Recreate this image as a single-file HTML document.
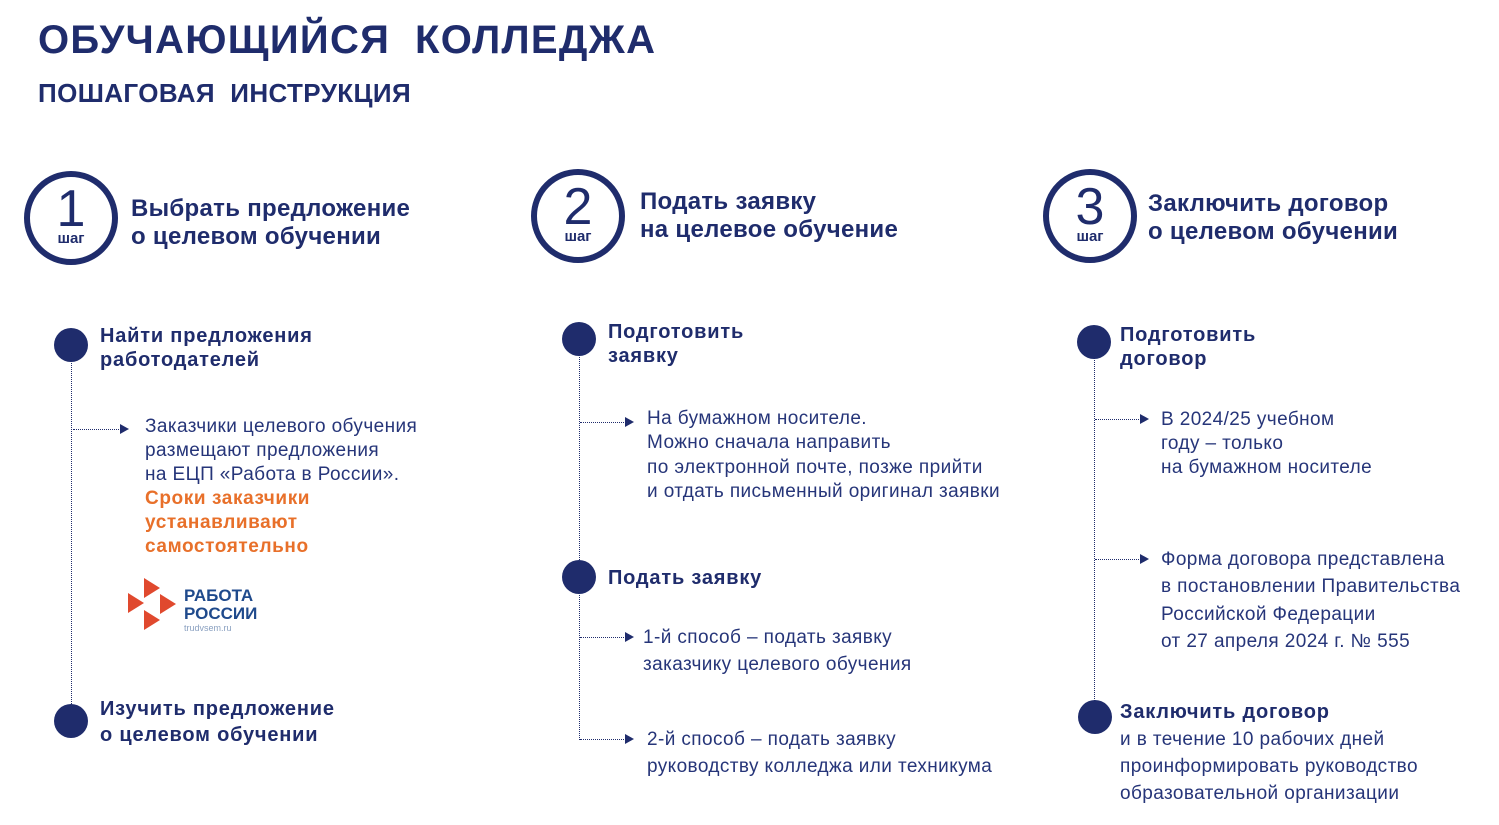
<!DOCTYPE html>
<html><head><meta charset="utf-8"><style>
body{margin:0;width:1499px;height:825px;background:#fff;position:relative;overflow:hidden;font-family:"Liberation Sans","DejaVu Sans",sans-serif;color:#1f2c6c}
.a{position:absolute;white-space:nowrap}
.t{font-weight:bold;color:#1f2c6c}
.h{font-weight:bold;font-size:24px;line-height:28px;letter-spacing:0.3px}
.b{font-weight:bold;font-size:20px;line-height:24px;letter-spacing:0.8px}
.n{font-size:19px;color:#263579;letter-spacing:0.4px}
.ring{position:absolute;width:82px;height:82px;border:6px solid #1f2c6c;border-radius:50%;text-align:center;color:#1f2c6c}
.ring .d{font-size:52px;line-height:52px;margin-top:6px;display:block}
.ring .s{font-size:15px;font-weight:bold;line-height:16px;display:block;margin-top:-4px}
.dot{position:absolute;width:34px;height:34px;border-radius:50%;background:#1f2c6c}
.v{position:absolute;border-left:1.5px dotted #1f2c6c;width:0}
.ar{position:absolute;border-top:1.5px dotted #1f2c6c;height:0}
.ar:after{content:"";position:absolute;right:-8px;top:-6px;border-left:9px solid #1f2c6c;border-top:5px solid transparent;border-bottom:5px solid transparent}
.or{color:#e8702a;font-weight:bold;letter-spacing:0.6px}
</style></head><body>
<div class="a t" style="left:38px;top:18px;font-size:40px;line-height:44px;letter-spacing:1.3px">ОБУЧАЮЩИЙСЯ&nbsp; КОЛЛЕДЖА</div>
<div class="a t" style="left:38px;top:78px;font-size:26px;line-height:30px;letter-spacing:0.4px">ПОШАГОВАЯ&nbsp; ИНСТРУКЦИЯ</div>

<div class="ring" style="left:24px;top:171px"><span class="d">1</span><span class="s">шаг</span></div>
<div class="a h" style="left:131px;top:195px">Выбрать предложение<br>о целевом обучении</div>
<div class="ring" style="left:531px;top:169px"><span class="d">2</span><span class="s">шаг</span></div>
<div class="a h" style="left:640px;top:188px">Подать заявку<br>на целевое обучение</div>
<div class="ring" style="left:1043px;top:169px"><span class="d">3</span><span class="s">шаг</span></div>
<div class="a h" style="left:1148px;top:190px">Заключить договор<br>о целевом обучении</div>

<!-- col1 -->
<div class="v" style="left:71px;top:360px;height:350px"></div>
<div class="dot" style="left:54px;top:328px"></div>
<div class="a b" style="left:100px;top:324px">Найти предложения<br>работодателей</div>
<div class="ar" style="left:73px;top:429px;width:48px"></div>
<div class="a n" style="left:145px;top:415px;line-height:24px">Заказчики целевого обучения<br>размещают предложения<br>на ЕЦП «Работа в России».<br><span class="or">Сроки заказчики<br>устанавливают<br>самостоятельно</span></div>
<svg class="a" style="left:126px;top:576px" width="135" height="60">
<polygon points="18,2 34,12 18,22" fill="#e0492e"/><polygon points="2,17 18,27 2,37" fill="#e0492e"/><polygon points="34,18 50,28 34,38" fill="#e0492e"/><polygon points="18,34 34,44 18,54" fill="#e0492e"/>
<text x="58" y="25" font-family="Liberation Sans" font-weight="bold" font-size="17" fill="#1f4a8c">РАБОТА</text>
<text x="58" y="43" font-family="Liberation Sans" font-weight="bold" font-size="17" fill="#1f4a8c">РОССИИ</text>
<text x="58" y="55" font-family="Liberation Sans" font-size="9" fill="#8aa0c0">trudvsem.ru</text></svg>
<div class="dot" style="left:54px;top:704px"></div>
<div class="a b" style="left:100px;top:696px;line-height:26px">Изучить предложение<br>о целевом обучении</div>

<!-- col2 -->
<div class="v" style="left:579px;top:354px;height:386px"></div>
<div class="dot" style="left:562px;top:322px"></div>
<div class="a b" style="left:608px;top:320px">Подготовить<br>заявку</div>
<div class="ar" style="left:580px;top:422px;width:46px"></div>
<div class="a n" style="left:647px;top:407px;line-height:24.3px">На бумажном носителе.<br>Можно сначала направить<br>по электронной почте, позже прийти<br>и отдать письменный оригинал заявки</div>
<div class="dot" style="left:562px;top:560px"></div>
<div class="a b" style="left:608px;top:566px">Подать заявку</div>
<div class="ar" style="left:580px;top:637px;width:46px"></div>
<div class="a n" style="left:643px;top:624px;line-height:27px">1-й способ – подать заявку<br>заказчику целевого обучения</div>
<div class="ar" style="left:580px;top:739px;width:46px"></div>
<div class="a n" style="left:647px;top:726px;line-height:27px">2-й способ – подать заявку<br>руководству колледжа или техникума</div>

<!-- col3 -->
<div class="v" style="left:1094px;top:358px;height:345px"></div>
<div class="dot" style="left:1077px;top:325px"></div>
<div class="a b" style="left:1120px;top:323px">Подготовить<br>договор</div>
<div class="ar" style="left:1095px;top:419px;width:46px"></div>
<div class="a n" style="left:1161px;top:408px;line-height:24px">В 2024/25 учебном<br>году – только<br>на бумажном носителе</div>
<div class="ar" style="left:1095px;top:559px;width:46px"></div>
<div class="a n" style="left:1161px;top:546px;line-height:27.3px">Форма договора представлена<br>в постановлении Правительства<br>Российской Федерации<br>от 27 апреля 2024 г. № 555</div>
<div class="dot" style="left:1078px;top:700px"></div>
<div class="a" style="left:1120px;top:700px;line-height:26px"><span class="b">Заключить договор</span><br><span class="n">и в течение 10 рабочих дней<br>проинформировать руководство<br>образовательной организации</span></div>
</body></html>
